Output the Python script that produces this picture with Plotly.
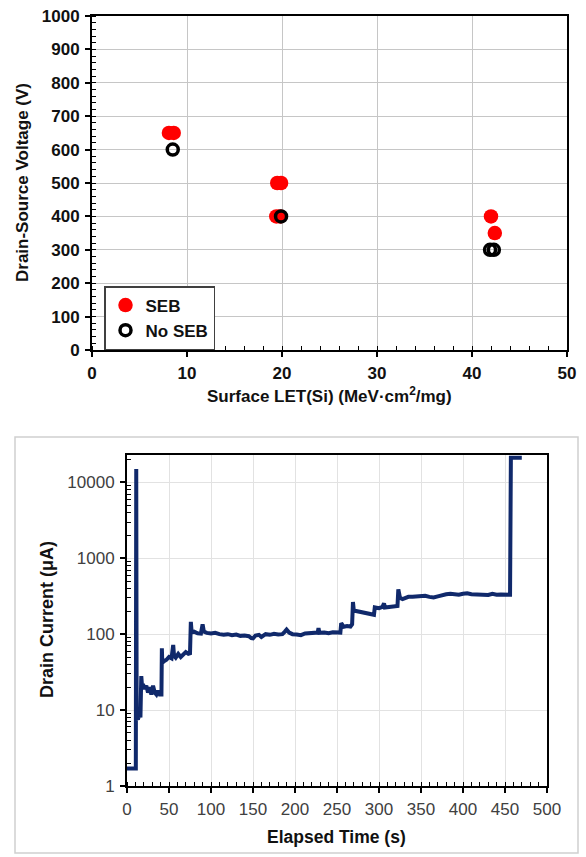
import plotly.graph_objects as go

W, H = 586, 857

# ---- Top chart data: SEB map ----
seb_let = [8.1, 8.6, 19.5, 19.9, 19.4, 19.8, 42.0, 42.4]
seb_vds = [650, 650, 500, 500, 400, 400, 400, 350]
noseb_let = [8.5, 19.9, 41.9, 42.3]
noseb_vds = [600, 400, 300, 300]

# ---- Bottom chart data: drain current vs time ----
time_s = [0, 10.5, 11, 11.5, 13, 15, 16, 17, 18, 19, 21, 23, 25, 27, 29, 31, 33, 35, 37, 39, 41,
          41.5, 42, 44, 47, 50, 53, 55, 56, 58, 61, 64, 67, 70, 73, 75,
          76, 77, 80, 84, 88, 90, 91.5, 95, 100, 105, 110, 115, 120, 125, 130, 135, 140, 145,
          148, 150, 153, 157, 160, 165, 170, 175, 180, 185, 188, 190, 193, 197, 202, 207, 212,
          217, 222, 227, 228, 229, 235, 240, 245, 250, 254, 255, 258, 262, 266, 268,
          269, 270, 275, 280, 285, 290, 294, 295, 300, 304, 306, 307, 312, 318, 322,
          323, 325, 328, 335, 340, 345, 350, 355, 360, 365, 370, 375, 380, 385, 390, 395,
          400, 405, 410, 415, 420, 425, 430, 435, 440, 445, 450, 456, 457, 470]
current_ua = [1.7, 1.7, 15000, 8, 7.5, 9, 8, 28, 20, 22, 19, 21, 17, 20, 16, 21, 17, 16, 18, 16, 16,
              65, 42, 44, 46, 50, 48, 72, 52, 49, 55, 50, 54, 58, 55, 56,
              145, 105, 108, 103, 102, 135, 108, 104, 102, 104, 100, 98, 100, 97, 99, 95, 96, 94,
              89, 88, 96, 98, 92, 100, 98, 101, 99, 100, 108, 115, 105, 100, 99, 97, 102,
              103, 104, 105, 120, 104, 105, 103, 106, 104, 105, 140, 125, 128, 126, 135,
              265, 205, 200, 195, 190, 185, 180, 225, 220, 228, 255, 225, 230, 235, 235,
              390, 300, 290, 310, 310, 315, 318, 320, 310, 305, 315, 330, 335, 340, 335, 330,
              340, 345, 335, 332, 330, 325, 328, 340, 330, 332, 328, 330, 21000, 21000]

y_tickvals = [1, 10, 100, 1000, 10000]
y_ticktext = ["1", "10", "100", "1000", "10000"]
y_minor = [m * 10 ** e for e in range(5) for m in range(2, 10)]

FONT = "Liberation Sans, Arial, sans-serif"

fig = go.Figure()
fig.add_trace(go.Scatter(
    x=seb_let, y=seb_vds, mode="markers", name="SEB",
    marker=dict(color="#ff0000", size=14.5, line=dict(width=0)),
    xaxis="x", yaxis="y"))
fig.add_trace(go.Scatter(
    x=noseb_let, y=noseb_vds, mode="markers", name="No SEB",
    marker=dict(symbol="circle-open", color="black", size=11, line=dict(width=3.5, color="black")),
    xaxis="x", yaxis="y"))
fig.add_trace(go.Scatter(
    x=time_s, y=current_ua, mode="lines", name="Drain current", showlegend=False,
    line=dict(color="#10296b", width=4),
    xaxis="x2", yaxis="y2"))

top_tick = dict(family=FONT, size=17, color="#111111", weight="bold")
bot_tick = dict(family=FONT, size=17, color="#404040")

common = dict(zeroline=False, showline=True, linecolor="black", linewidth=2, mirror=True,
              ticks="outside", ticklen=5, tickwidth=1.5, tickcolor="black",
              automargin=False, ticklabelstandoff=2, showgrid=True, gridwidth=1)

fig.update_layout(
    width=W, height=H, autosize=False,
    margin=dict(l=0, r=0, t=0, b=0, pad=0, autoexpand=False),
    paper_bgcolor="white", plot_bgcolor="white",
    font=dict(family=FONT, color="#111111"),
    showlegend=True,
    legend=dict(x=104 / W, y=1 - 286 / H, xanchor="left", yanchor="top",
                bgcolor="white", bordercolor="#404040", borderwidth=1.5,
                font=dict(family=FONT, size=17, color="#111111", weight="bold"),
                itemwidth=30, tracegroupgap=0),
    xaxis=dict(domain=[92 / W, 567 / W], anchor="y", range=[0, 50], tick0=0, dtick=10,
               gridcolor="#c6c6c6",
               minor=dict(dtick=2, ticks="inside", ticklen=4, tickwidth=1.2, tickcolor="black", showgrid=False),
               tickfont=top_tick, **common),
    yaxis=dict(domain=[1 - 350 / H, 1 - 16 / H], anchor="x", range=[0, 1000], tick0=0, dtick=100,
               gridcolor="#c6c6c6",
               minor=dict(dtick=20, ticks="inside", ticklen=4, tickwidth=1.2, tickcolor="black", showgrid=False),
               tickfont=top_tick, **common),
    xaxis2=dict(domain=[127 / W, 547 / W], anchor="y2", range=[0, 500], tick0=0, dtick=50,
                gridcolor="#e2e2e2",
                minor=dict(dtick=10, ticks="inside", ticklen=4, tickwidth=1.2, tickcolor="black", showgrid=False),
                tickfont=bot_tick, **common),
    yaxis2=dict(domain=[1 - 786 / H, 1 - 455 / H], anchor="x2", type="log", range=[0, 4.36],
                tickmode="array", tickvals=y_tickvals, ticktext=y_ticktext,
                gridcolor="#e2e2e2",
                minor=dict(tickmode="array", tickvals=y_minor, ticks="inside", ticklen=4,
                           tickwidth=1.2, tickcolor="black", showgrid=False),
                tickfont=bot_tick, **common),
    shapes=[dict(type="rect", xref="paper", yref="paper",
                 x0=15 / W, x1=578 / W, y0=1 - 853 / H, y1=1 - 437 / H,
                 line=dict(color="#d0d0d0", width=1.5), fillcolor="rgba(0,0,0,0)", layer="below")],
    annotations=[
        dict(text="Drain-Source Voltage (V)", xref="paper", yref="paper", x=22 / W, y=1 - 183 / H,
             textangle=-90, showarrow=False, xanchor="center", yanchor="middle",
             font=dict(family=FONT, size=17, color="#111111", weight="bold")),
        dict(text="Surface LET(Si) (MeV·cm<sup>2</sup>/mg)", xref="paper", yref="paper",
             x=329.5 / W, y=1 - 395 / H, showarrow=False, xanchor="center", yanchor="middle",
             font=dict(family=FONT, size=17, color="#111111", weight="bold")),
        dict(text="Drain Current (μA)", xref="paper", yref="paper", x=47 / W, y=1 - 620 / H,
             textangle=-90, showarrow=False, xanchor="center", yanchor="middle",
             font=dict(family=FONT, size=18, color="#111111", weight="bold")),
        dict(text="Elapsed Time (s)", xref="paper", yref="paper", x=336 / W, y=1 - 837 / H,
             showarrow=False, xanchor="center", yanchor="middle",
             font=dict(family=FONT, size=17.5, color="#111111", weight="bold")),
    ],
)

fig.write_html("out.html", config={"displayModeBar": False},
               post_script="document.body.style.margin='0px';document.body.style.overflow='hidden';")
